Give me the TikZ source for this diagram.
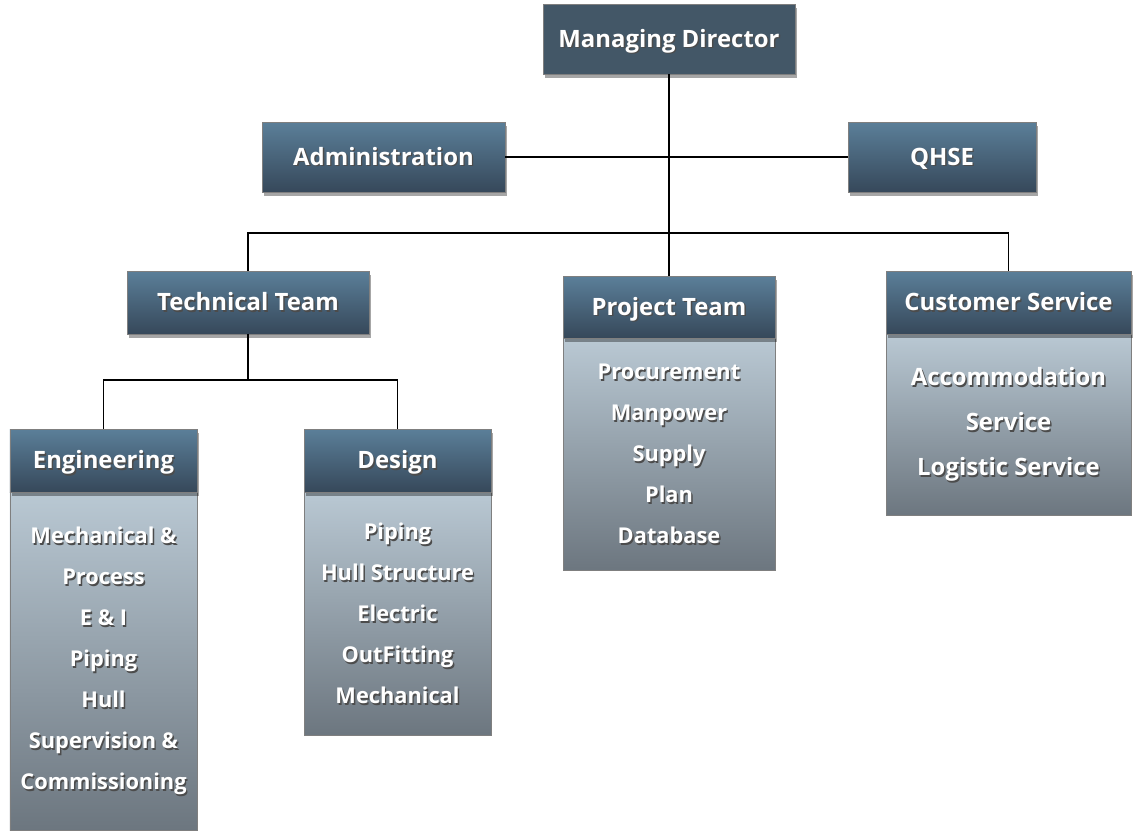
\documentclass[tikz,border=0pt]{standalone}
\usepackage{fontspec}
\setmainfont{Open Sans}
\usetikzlibrary{positioning,shadows,backgrounds}

\definecolor{headtop}{HTML}{5B7F99}
\definecolor{headbot}{HTML}{36485A}
\definecolor{mdfill}{HTML}{435767}
\definecolor{bodytop}{HTML}{B9C8D3}
\definecolor{bodybot}{HTML}{6C767F}
\definecolor{edge}{HTML}{7F7F7F}

\newcommand{\shd}[1]{\leavevmode\rlap{\kern1pt\raisebox{-1pt}{\textcolor{black!70}{#1}}}#1}

\tikzset{
  boxshadow/.style={drop shadow={shadow xshift=1.5pt, shadow yshift=-2.5pt, opacity=0.35, fill=black}},
  head/.style={draw=edge, line width=0.6pt, top color=headtop, bottom color=headbot, text=white,
    font=\fontsize{17}{20}\selectfont\bfseries, boxshadow, inner sep=0pt, text height=1.2em, text depth=0em},
  body/.style={draw=edge, line width=0.6pt, top color=bodytop, bottom color=bodybot, text=white,
    font=\fontsize{15.5}{29.2}\selectfont\bfseries, align=center, inner sep=0pt, anchor=north},
  link/.style={line width=1.4pt}
}

\begin{document}
\begin{tikzpicture}
\useasboundingbox (0,0) rectangle (28.525,-20.775);

\node[head, fill=mdfill, top color=mdfill, bottom color=mdfill, minimum width=6.3cm, minimum height=1.75cm] (md) at (16.725,-0.975) {\shd{Managing Director}};
\node[head, minimum width=6.075cm, minimum height=1.75cm] (adm) at (9.5875,-3.925) {\shd{Administration}};
\node[head, minimum width=4.7cm, minimum height=1.75cm] (qhse) at (23.55,-3.925) {\shd{QHSE}};

\node[head, minimum width=6.05cm, minimum height=1.575cm] (tech) at (6.2,-7.5625) {\shd{Technical Team}};
\node[head, minimum width=5.3cm, minimum height=1.55cm] (proj) at (16.725,-7.675) {\shd{Project Team}};
\node[head, minimum width=6.125cm, minimum height=1.575cm] (cust) at (25.2125,-7.5625) {\shd{Customer Service}};

\node[head, minimum width=4.675cm, minimum height=1.575cm] (eng) at (2.5875,-11.5125) {\shd{Engineering}};
\node[head, minimum width=4.675cm, minimum height=1.575cm] (des) at (9.9375,-11.5125) {\shd{Design}};

\begin{pgfonlayer}{background}
\node[body, minimum width=5.3cm, minimum height=5.8cm, below=0pt of proj] (projlist)
  {\shd{Procurement}\\\shd{Manpower}\\\shd{Supply}\\\shd{Plan}\\\shd{Database}};
\node[body, font=\fontsize{17}{32}\selectfont\bfseries, minimum width=6.125cm, minimum height=4.525cm, below=0pt of cust] (custlist)
  {\shd{Accommodation}\\\shd{Service}\\\shd{Logistic Service}};
\node[body, minimum width=4.675cm, minimum height=8.45cm, below=0pt of eng] (englist)
  {\shd{Mechanical \&}\\\shd{Process}\\\shd{E \& I}\\\shd{Piping}\\\shd{Hull}\\\shd{Supervision \&}\\\shd{Commissioning}};
\node[body, minimum width=4.675cm, minimum height=6.075cm, below=0pt of des] (deslist)
  {\shd{Piping}\\\shd{Hull Structure}\\\shd{Electric}\\\shd{OutFitting}\\\shd{Mechanical}};
\end{pgfonlayer}

\coordinate (bus) at (16.725,-5.825);
\coordinate (split) at (6.2,-9.5);

\draw[link] (md) -- (proj);
\draw[link] (adm) -- (qhse);
\draw[link] (tech.north) |- (bus) -| (cust.north);
\draw[link] (tech) -- (split);
\draw[link] (eng.north) |- (split) -| (des.north);

\end{tikzpicture}
\end{document}
